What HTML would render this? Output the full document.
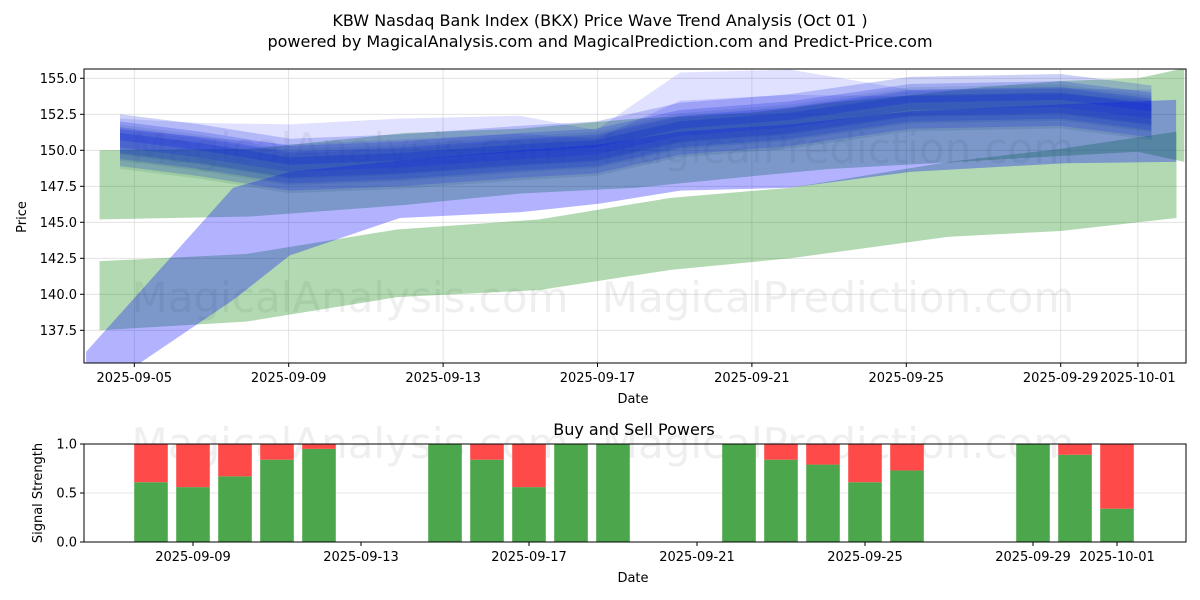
<!DOCTYPE html>
<html><head><meta charset="utf-8">
<style>
body{margin:0;background:#fff;}
svg{display:block;font-family:"DejaVu Sans","Liberation Sans",sans-serif;}
</style></head>
<body>
<svg id="chart" width="1200" height="600" viewBox="0 0 1200 600" xmlns="http://www.w3.org/2000/svg">
  <rect width="1200" height="600" fill="#fff"/>
  <text x="600" y="26" font-size="16" text-anchor="middle">KBW Nasdaq Bank Index (BKX) Price Wave Trend Analysis (Oct 01 )</text>
  <text x="600" y="47" font-size="16" text-anchor="middle">powered by MagicalAnalysis.com and MagicalPrediction.com and Predict-Price.com</text>
  <g id="topPanel"></g>
  <g id="botPanel"></g>
</svg>
<script>
// ---- price panel data (days offset from 2025-09-05) ----
const greenLowDays  = [-0.9, 2.9, 6.8, 10.5, 13.9, 17.0, 21.1, 24.0, 27.0];
const greenLowUpper = [142.3, 142.8, 144.5, 145.2, 146.7, 147.4, 149.2, 150.1, 151.3];
const greenLowLower = [137.5, 138.1, 139.8, 140.3, 141.7, 142.5, 144.0, 144.4, 145.3];
const greenHiDays   = [-0.9, 3, 7, 10, 13, 16, 18, 20, 22, 24, 26, 27.2];
const greenHiUpper  = [150.0, 150.1, 151.2, 151.5, 152.2, 152.6, 153.3, 153.8, 154.4, 154.8, 155.0, 155.7];
const greenHiLower  = [145.2, 145.4, 146.2, 147.0, 147.4, 148.2, 148.7, 149.0, 149.3, 149.6, 149.9, 149.2];
const diagDays  = [-1.25, 2.56, 4.03, 6.88, 9.99, 12.06, 14.14, 16.99, 20.1, 24.11, 26.99];
const diagUpper = [136.0, 147.4, 148.5, 149.3, 150.0, 150.4, 151.3, 151.8, 152.7, 153.2, 153.5];
const diagLower = [132.7, 139.6, 142.7, 145.3, 145.7, 146.3, 147.2, 147.4, 148.5, 149.1, 149.2];
const waveDays   = [-0.37, 1.7, 4.03, 6.88, 9.99, 11.96, 14.14, 16.99, 20.1, 24.0, 26.35];
const waveCenter = [150.7, 150.0, 149.0, 149.3, 149.9, 150.2, 151.5, 152.1, 153.3, 153.5, 152.7];
const waveTop    = [152.2, 151.9, 151.8, 152.2, 152.4, 151.4, 155.4, 155.6, 154.2, 154.3, 154.2];
const waveHalf   = [0.5, 0.9, 1.3, 1.8];
const priceTicks = [137.5, 140.0, 142.5, 145.0, 147.5, 150.0, 152.5, 155.0];
const dateTickDays = [0, 4, 8, 12, 16, 20, 24, 26];
const dateTickLabels = ["2025-09-05","2025-09-09","2025-09-13","2025-09-17","2025-09-21","2025-09-25","2025-09-29","2025-10-01"];
// ---- signal panel data (days offset from 2025-09-09) ----
const barDays = [-1,0,1,2,3,6,7,8,9,10,13,14,15,16,17,20,21,22];
const buyVals = [0.61,0.56,0.67,0.84,0.95,1.0,0.84,0.56,1.0,1.0,1.0,0.84,0.79,0.61,0.73,1.0,0.89,0.34];
const sigTicks = [0.0, 0.5, 1.0];
const botTickDays = [0,4,8,12,16,20,22];
const botTickLabels = ["2025-09-09","2025-09-13","2025-09-17","2025-09-21","2025-09-25","2025-09-29","2025-10-01"];

const NS="http://www.w3.org/2000/svg";
function mk(tag,attrs,parent){const e=document.createElementNS(NS,tag);for(const k in attrs)e.setAttribute(k,attrs[k]);parent.appendChild(e);return e;}
const topG=document.getElementById('topPanel'), botG=document.getElementById('botPanel');
const T={l:84,r:1186,t:69,b:363};
const xT=d=>134.3+38.6*d;
const yT=p=>78.3+(155-p)*14.4;
const B={l:84,r:1186,t:444,b:542};
const xB=d=>193+42*d;
const yB=v=>B.b-(B.b-B.t)*v;

const defs=mk('defs',{},topG);
const cp=mk('clipPath',{id:'cpT'},defs);
mk('rect',{x:T.l,y:T.t,width:T.r-T.l,height:T.b-T.t},cp);

priceTicks.forEach(p=>{const g=mk('line',{x1:T.l,x2:T.r,y1:yT(p),y2:yT(p),stroke:'#ddd','stroke-width':0.8},topG);

});
dateTickDays.forEach(d=>{const g=mk('line',{x1:xT(d),x2:xT(d),y1:T.t,y2:T.b,stroke:'#ddd','stroke-width':0.8},topG);

});

[[350,163,'MagicalAnalysis.com'],[838,163,'MagicalPrediction.com'],[350,312,'MagicalAnalysis.com'],[838,312,'MagicalPrediction.com']].forEach(w=>{
const t=mk('text',{x:w[0],y:w[1],'font-size':42,'text-anchor':'middle',fill:'rgba(120,120,120,0.12)'},topG);t.textContent=w[2];

});

const bands=mk('g',{'clip-path':'url(#cpT)'},topG);
function band(days,up,lo,fill,name){
  let pts=days.map((d,i)=>xT(d)+','+yT(up[i]));
  for(let i=days.length-1;i>=0;i--)pts.push(xT(days[i])+','+yT(lo[i]));
  const p=mk('polygon',{points:pts.join(' '),fill:fill},bands);
  
  
}
band(greenLowDays,greenLowUpper,greenLowLower,'rgba(0,128,0,0.3)','green-band-lower');
band(greenHiDays,greenHiUpper,greenHiLower,'rgba(0,128,0,0.3)','green-band-upper');
waveHalf.slice(1).forEach(h=>band(waveDays,waveCenter.map(c=>c+h*0.6),waveCenter.map(c=>c-h*1.1),'rgba(0,110,40,0.12)','green-wave-layer'));
band(diagDays,diagUpper,diagLower,'rgba(0,0,255,0.3)','blue-band-diagonal');
band(waveDays,waveTop,waveCenter,'rgba(0,0,255,0.12)','blue-band-upper-light');
band(waveDays,waveTop.map((t,i)=>(t+waveCenter[i])/2),waveCenter,'rgba(0,0,255,0.12)','blue-band-upper-mid');
waveHalf.forEach(h=>band(waveDays,waveCenter.map(c=>c+h),waveCenter.map(c=>c-h),'rgba(20,40,220,0.22)','blue-wave-layer'));

mk('rect',{x:T.l,y:T.t,width:T.r-T.l,height:T.b-T.t,fill:'none',stroke:'#000','stroke-width':1},topG);
priceTicks.forEach(p=>{mk('line',{x1:T.l-4,x2:T.l,y1:yT(p),y2:yT(p),stroke:'#000'},topG);
const t=mk('text',{x:T.l-7,y:yT(p)+4.5,'font-size':13,'text-anchor':'end'},topG);t.textContent=p.toFixed(1);

});
dateTickDays.forEach((d,i)=>{mk('line',{x1:xT(d),x2:xT(d),y1:T.b,y2:T.b+4,stroke:'#000'},topG);
const t=mk('text',{x:xT(d),y:T.b+19,'font-size':13,'text-anchor':'middle'},topG);t.textContent=dateTickLabels[i];

});
let tx=mk('text',{x:633,y:403,'font-size':13,'text-anchor':'middle'},topG);tx.textContent='Date';


tx=mk('text',{x:26,y:217,'font-size':13,'text-anchor':'middle',transform:'rotate(-90 26 217)'},topG);tx.textContent='Price';



sigTicks.forEach(v=>{const g=mk('line',{x1:B.l,x2:B.r,y1:yB(v),y2:yB(v),stroke:'#ddd','stroke-width':0.8},botG);

});
[[350,458,'MagicalAnalysis.com'],[838,458,'MagicalPrediction.com']].forEach(w=>{
const t=mk('text',{x:w[0],y:w[1],'font-size':42,'text-anchor':'middle',fill:'rgba(120,120,120,0.12)'},botG);t.textContent=w[2];

});
barDays.forEach((d,i)=>{
  const x=xB(d)-16.8,w=33.6,bv=buyVals[i];
  const g=mk('rect',{x:x,y:yB(bv),width:w,height:yB(0)-yB(bv),fill:'#4ca64c'},botG);
  
  
  const r=mk('rect',{x:x,y:yB(1),width:w,height:yB(bv)-yB(1),fill:'#ff4a4a'},botG);
  
  
});
mk('rect',{x:B.l,y:B.t,width:B.r-B.l,height:B.b-B.t,fill:'none',stroke:'#000','stroke-width':1},botG);
sigTicks.forEach(v=>{mk('line',{x1:B.l-4,x2:B.l,y1:yB(v),y2:yB(v),stroke:'#000'},botG);
const t=mk('text',{x:B.l-7,y:yB(v)+4.5,'font-size':13,'text-anchor':'end'},botG);t.textContent=v.toFixed(1);

});
botTickDays.forEach((d,i)=>{mk('line',{x1:xB(d),x2:xB(d),y1:B.b,y2:B.b+4,stroke:'#000'},botG);
const t=mk('text',{x:xB(d),y:B.b+19,'font-size':13,'text-anchor':'middle'},botG);t.textContent=botTickLabels[i];

});
tx=mk('text',{x:634,y:435,'font-size':16,'text-anchor':'middle'},botG);tx.textContent='Buy and Sell Powers';


tx=mk('text',{x:633,y:582,'font-size':13,'text-anchor':'middle'},botG);tx.textContent='Date';


tx=mk('text',{x:42,y:493,'font-size':13,'text-anchor':'middle',transform:'rotate(-90 42 493)'},botG);tx.textContent='Signal Strength';


</script>
</body></html>
